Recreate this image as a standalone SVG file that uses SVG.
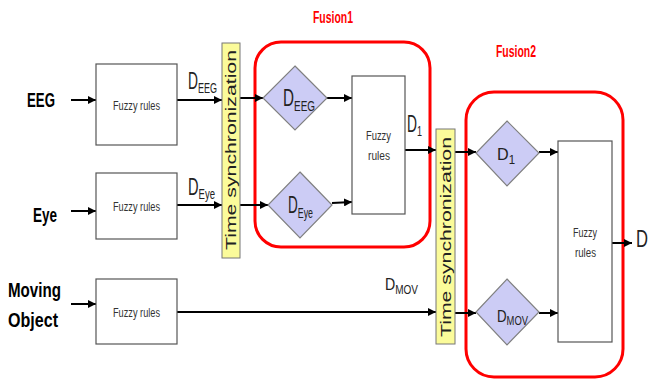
<svg xmlns="http://www.w3.org/2000/svg" width="651" height="381" viewBox="0 0 651 381">
<defs>
<marker id="ah" viewBox="0 0 8 8" refX="8" refY="4" markerWidth="4" markerHeight="4" orient="auto" markerUnits="strokeWidth">
<path d="M0,0 L8,4 L0,8 z" fill="#000"/>
</marker>
<style>
.box{fill:#fff;stroke:#555;stroke-width:1.2}
.dia{fill:#ccccf5;stroke:#808080;stroke-width:1.2}
.bar{fill:#fbfb9a;stroke:#777;stroke-width:1}
.fus{fill:none;stroke:#f00;stroke-width:3}
.arr{stroke:#000;stroke-width:2;fill:none;marker-end:url(#ah)}
.in{font-family:"Liberation Sans",Arial,sans-serif;font-weight:bold;font-size:21px;fill:#000}
.fz{font-family:"Liberation Sans",Arial,sans-serif;font-size:12px;fill:#333}
.d{font-family:"Liberation Sans",Arial,sans-serif;font-size:23px;fill:#222}
.sub{font-size:15px}
.ds{font-family:"Liberation Sans",Arial,sans-serif;font-size:17px;fill:#222}
.sub2{font-size:12px}
.ts{font-family:"Liberation Sans",Arial,sans-serif;font-size:15px;fill:#222}
.fl{font-family:"Liberation Sans",Arial,sans-serif;font-weight:bold;font-size:16px;fill:#f00}
</style>
</defs>
<rect width="651" height="381" fill="#fff"/>

<g id="fusion1">
<rect class="fus" x="255" y="42" width="175" height="205" rx="26"/>
<text class="fl" x="313" y="23" textLength="40" lengthAdjust="spacingAndGlyphs">Fusion1</text>
</g>
<g id="fusion2">
<rect class="fus" x="466" y="92" width="157" height="285" rx="28"/>
<text class="fl" x="496" y="57" textLength="40" lengthAdjust="spacingAndGlyphs">Fusion2</text>
</g>

<g id="connectors">
<line class="arr" x1="71" y1="100" x2="96" y2="100"/>
<line class="arr" x1="71" y1="211" x2="96" y2="211"/>
<line class="arr" x1="71" y1="304" x2="96" y2="304"/>
<line class="arr" x1="177" y1="100" x2="222" y2="100"/>
<line class="arr" x1="177" y1="205" x2="222" y2="205"/>
<line class="arr" x1="177" y1="312" x2="436" y2="312"/>
<line class="arr" x1="240" y1="98" x2="263" y2="98"/>
<line class="arr" x1="240" y1="205" x2="268" y2="205"/>
<line class="arr" x1="327" y1="98" x2="352" y2="98"/>
<line class="arr" x1="332" y1="203" x2="352" y2="202"/>
<line class="arr" x1="405" y1="150" x2="436" y2="150"/>
<line class="arr" x1="455" y1="152" x2="476" y2="152"/>
<line class="arr" x1="455" y1="313" x2="476" y2="313"/>
<line class="arr" x1="539" y1="152" x2="558" y2="152"/>
<line class="arr" x1="539" y1="313" x2="558" y2="313"/>
<line class="arr" x1="612" y1="243" x2="632" y2="243"/>
</g>

<g id="in-eeg"><text class="in" x="27" y="107" textLength="28" lengthAdjust="spacingAndGlyphs">EEG</text></g>
<g id="in-eye"><text class="in" x="33" y="222" textLength="24" lengthAdjust="spacingAndGlyphs">Eye</text></g>
<g id="in-mov"><text class="in" x="8" y="297" textLength="53" lengthAdjust="spacingAndGlyphs">Moving</text><text class="in" x="8" y="327" textLength="50" lengthAdjust="spacingAndGlyphs">Object</text></g>

<g id="fz-eeg"><rect class="box" x="96" y="64" width="81" height="81"/><text class="fz" x="113" y="110" textLength="47" lengthAdjust="spacingAndGlyphs">Fuzzy rules</text></g>
<g id="fz-eye"><rect class="box" x="96" y="173" width="81" height="66"/><text class="fz" x="113" y="211" textLength="47" lengthAdjust="spacingAndGlyphs">Fuzzy rules</text></g>
<g id="fz-mov"><rect class="box" x="96" y="279" width="81" height="65"/><text class="fz" x="113" y="317" textLength="47" lengthAdjust="spacingAndGlyphs">Fuzzy rules</text></g>

<g id="lbl-deeg"><text class="d" x="188" y="89" textLength="29" lengthAdjust="spacingAndGlyphs">D<tspan class="sub" dy="4">EEG</tspan></text></g>
<g id="lbl-deye"><text class="d" x="188" y="195" textLength="27" lengthAdjust="spacingAndGlyphs">D<tspan class="sub" dy="4">Eye</tspan></text></g>
<g id="lbl-dmov"><text class="ds" x="385" y="290" textLength="33" lengthAdjust="spacingAndGlyphs">D<tspan class="sub2" dy="4">MOV</tspan></text></g>
<g id="lbl-d1"><text class="d" x="407" y="132" textLength="15" lengthAdjust="spacingAndGlyphs">D<tspan class="sub" dy="4">1</tspan></text></g>
<g id="lbl-d"><text class="d" x="636" y="247" textLength="12" lengthAdjust="spacingAndGlyphs">D</text></g>

<g id="sync1"><rect class="bar" x="222" y="43" width="18" height="215"/><text class="ts" transform="translate(236,150) rotate(-90)" text-anchor="middle" textLength="200" lengthAdjust="spacingAndGlyphs">Time synchronization</text></g>
<g id="sync2"><rect class="bar" x="436" y="129" width="19" height="215"/><text class="ts" transform="translate(450.5,237) rotate(-90)" text-anchor="middle" textLength="200" lengthAdjust="spacingAndGlyphs">Time synchronization</text></g>

<g id="dia-eeg"><polygon class="dia" points="295,66 327,98 295,130 263,98"/><text class="d" x="283" y="106" textLength="32" lengthAdjust="spacingAndGlyphs">D<tspan class="sub" dy="5">EEG</tspan></text></g>
<g id="dia-eye"><polygon class="dia" points="300,172 332,205 300,238 268,205"/><text class="d" x="288" y="213" textLength="25" lengthAdjust="spacingAndGlyphs">D<tspan class="sub" dy="5">Eye</tspan></text></g>
<g id="fz-f1"><rect class="box" x="352" y="76" width="53" height="138"/><text class="fz" x="366" y="140" textLength="25" lengthAdjust="spacingAndGlyphs">Fuzzy</text><text class="fz" x="368" y="160" textLength="22" lengthAdjust="spacingAndGlyphs">rules</text></g>

<g id="dia-d1"><polygon class="dia" points="507,121 539,153 507,186 476,153"/><text class="ds" x="497" y="160" textLength="18" lengthAdjust="spacingAndGlyphs">D<tspan class="sub2" dy="4">1</tspan></text></g>
<g id="dia-mov"><polygon class="dia" points="507,279 539,312 507,345 476,312"/><text class="ds" x="497" y="322" textLength="31" lengthAdjust="spacingAndGlyphs">D<tspan class="sub2" dy="3">MOV</tspan></text></g>
<g id="fz-f2"><rect class="box" x="558" y="141" width="54" height="201"/><text class="fz" x="573" y="237" textLength="24" lengthAdjust="spacingAndGlyphs">Fuzzy</text><text class="fz" x="575" y="257" textLength="21" lengthAdjust="spacingAndGlyphs">rules</text></g>
</svg>
